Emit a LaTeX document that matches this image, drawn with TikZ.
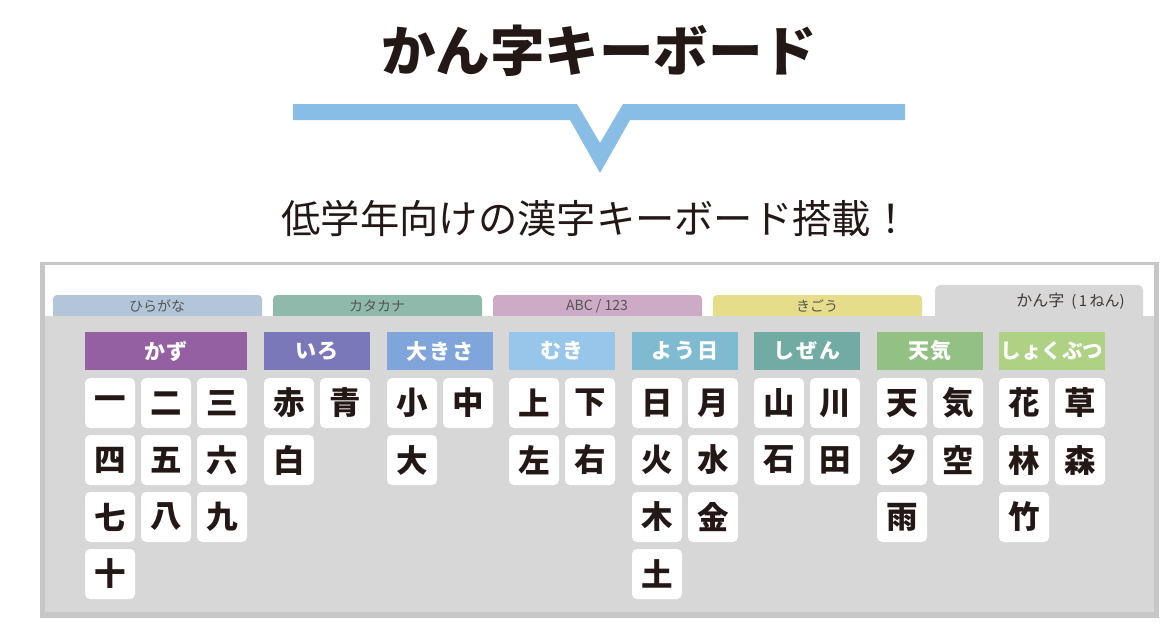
\documentclass[tikz,border=0pt]{standalone}
\usepackage{fontspec}
\newfontfamily\jp{Noto Sans CJK JP}
\newfontfamily\jpwide{Noto Sans CJK JP}[LetterSpace=8]
\definecolor{ink}{HTML}{231815}
\definecolor{band}{HTML}{88BEE5}
\definecolor{panel}{HTML}{D7D7D7}
\definecolor{rim}{HTML}{C6C6C6}
\definecolor{tabA}{HTML}{B3C6D9}
\definecolor{tabB}{HTML}{8FB9AB}
\definecolor{tabC}{HTML}{CDAAC6}
\definecolor{tabD}{HTML}{E5DD8A}
\definecolor{tabtxt}{HTML}{555555}
\definecolor{cKazu}{HTML}{9560A2}
\definecolor{cIro}{HTML}{7B78B9}
\definecolor{cOokisa}{HTML}{80A5DA}
\definecolor{cMuki}{HTML}{98C6EB}
\definecolor{cYoubi}{HTML}{7EBBD1}
\definecolor{cShizen}{HTML}{72ABA3}
\definecolor{cTenki}{HTML}{93C183}
\definecolor{cShoku}{HTML}{AFD183}
\tikzset{
  kbkey/.style={fill=white, rounded corners=5pt, minimum width=50pt, minimum height=50pt, inner sep=0pt,
    text=ink, font=\jp\bfseries\fontsize{31.5}{32}\selectfont},
  cathead/.style={minimum height=38pt, inner sep=0pt, text=white,
    font=\jpwide\bfseries\fontsize{21}{21}\selectfont},
  tablabel/.style={inner sep=0pt, text=tabtxt, font=\jp\fontsize{14}{14}\selectfont},
}
\newcommand\kbk[4]{\node[kbkey] (#1) at (#2,#3) {#4};}
\begin{document}
\begin{tikzpicture}[x=1pt,y=-1pt]
\useasboundingbox (0,0) rectangle (1175,633);
% title
\node[inner sep=0pt, text=ink, font=\jp\bfseries\fontsize{54.5}{56}\selectfont] (title) at (599,51) {かん字キーボード};
% band with V
\fill[band] (293,104) -- (577,104) -- (600,143) -- (623,104) -- (905,104) -- (905,120)
  -- (630,120) -- (600,173) -- (570,120) -- (293,120) -- cycle;
\node[inner sep=0pt, text=ink, font=\jp\fontsize{39.3}{40}\selectfont] (subtitle) at (596,218) {低学年向けの漢字キーボード搭載！};
% panel
\fill[rim] (40,262) rectangle (1159,618);
\fill[white] (45,265) rectangle (1154,316);
\fill[tabA, rounded corners=4pt] (53,322) -- (53,295) -- (262,295) -- (262,322) -- cycle;
\fill[tabB, rounded corners=4pt] (273,322) -- (273,295) -- (482,295) -- (482,322) -- cycle;
\fill[tabC, rounded corners=4pt] (493,322) -- (493,295) -- (702,295) -- (702,322) -- cycle;
\fill[tabD, rounded corners=4pt] (713,322) -- (713,295) -- (922,295) -- (922,322) -- cycle;
\fill[panel, rounded corners=5pt] (935,322) -- (935,285) -- (1143,285) -- (1143,322) -- cycle;
\fill[panel] (45,316) rectangle (1154,612);
\node[tablabel] (t1) at (157,306) {ひらがな};
\node[tablabel] (t2) at (377,306) {カタカナ};
\node[tablabel] (t3) at (597,306) {ABC / 123};
\node[tablabel] (t4) at (817,306) {きごう};
\node[inner sep=0pt, text=ink!85, anchor=east] (t5) at (1125,301)
  {{\jp\fontsize{16}{17}\selectfont かん字}\hspace{7pt}{\jp\fontsize{15}{15}\selectfont (\hspace{2.5pt}1\hspace{2.5pt}ねん)}};
% category headers
\node[cathead, fill=cKazu, minimum width=162pt] (h1) at (166,351) {かず};
\node[cathead, fill=cIro, minimum width=106pt] (h2) at (317,351) {いろ};
\node[cathead, fill=cOokisa, minimum width=106pt] (h3) at (440,351) {大きさ};
\node[cathead, fill=cMuki, minimum width=106pt] (h4) at (562,351) {むき};
\node[cathead, fill=cYoubi, minimum width=106pt] (h5) at (685,351) {よう日};
\node[cathead, fill=cShizen, minimum width=106pt] (h6) at (807,351) {しぜん};
\node[cathead, fill=cTenki, minimum width=106pt] (h7) at (930,351) {天気};
\node[cathead, fill=cShoku, minimum width=106pt, font=\jp\bfseries\fontsize{20.5}{21}\selectfont] (h8) at (1052,351) {しょくぶつ};
% kazu
\kbk{k11}{110}{403}{一}\kbk{k12}{166}{403}{二}\kbk{k13}{222}{403}{三}
\kbk{k14}{110}{460}{四}\kbk{k15}{166}{460}{五}\kbk{k16}{222}{460}{六}
\kbk{k17}{110}{517}{七}\kbk{k18}{166}{517}{八}\kbk{k19}{222}{517}{九}
\kbk{k10}{110}{574}{十}
% iro
\kbk{k21}{289}{403}{赤}\kbk{k22}{345}{403}{青}
\kbk{k23}{289}{460}{白}
% ookisa
\kbk{k31}{412}{403}{小}\kbk{k32}{468}{403}{中}
\kbk{k33}{412}{460}{大}
% muki
\kbk{k41}{534}{403}{上}\kbk{k42}{590}{403}{下}
\kbk{k43}{534}{460}{左}\kbk{k44}{590}{460}{右}
% youbi
\kbk{k51}{657}{403}{日}\kbk{k52}{713}{403}{月}
\kbk{k53}{657}{460}{火}\kbk{k54}{713}{460}{水}
\kbk{k55}{657}{517}{木}\kbk{k56}{713}{517}{金}
\kbk{k57}{657}{574}{土}
% shizen
\kbk{k61}{779}{403}{山}\kbk{k62}{835}{403}{川}
\kbk{k63}{779}{460}{石}\kbk{k64}{835}{460}{田}
% tenki
\kbk{k71}{902}{403}{天}\kbk{k72}{958}{403}{気}
\kbk{k73}{902}{460}{夕}\kbk{k74}{958}{460}{空}
\kbk{k75}{902}{517}{雨}
% shokubutsu
\kbk{k81}{1024}{403}{花}\kbk{k82}{1080}{403}{草}
\kbk{k83}{1024}{460}{林}\kbk{k84}{1080}{460}{森}
\kbk{k85}{1024}{517}{竹}
\end{tikzpicture}
\end{document}
